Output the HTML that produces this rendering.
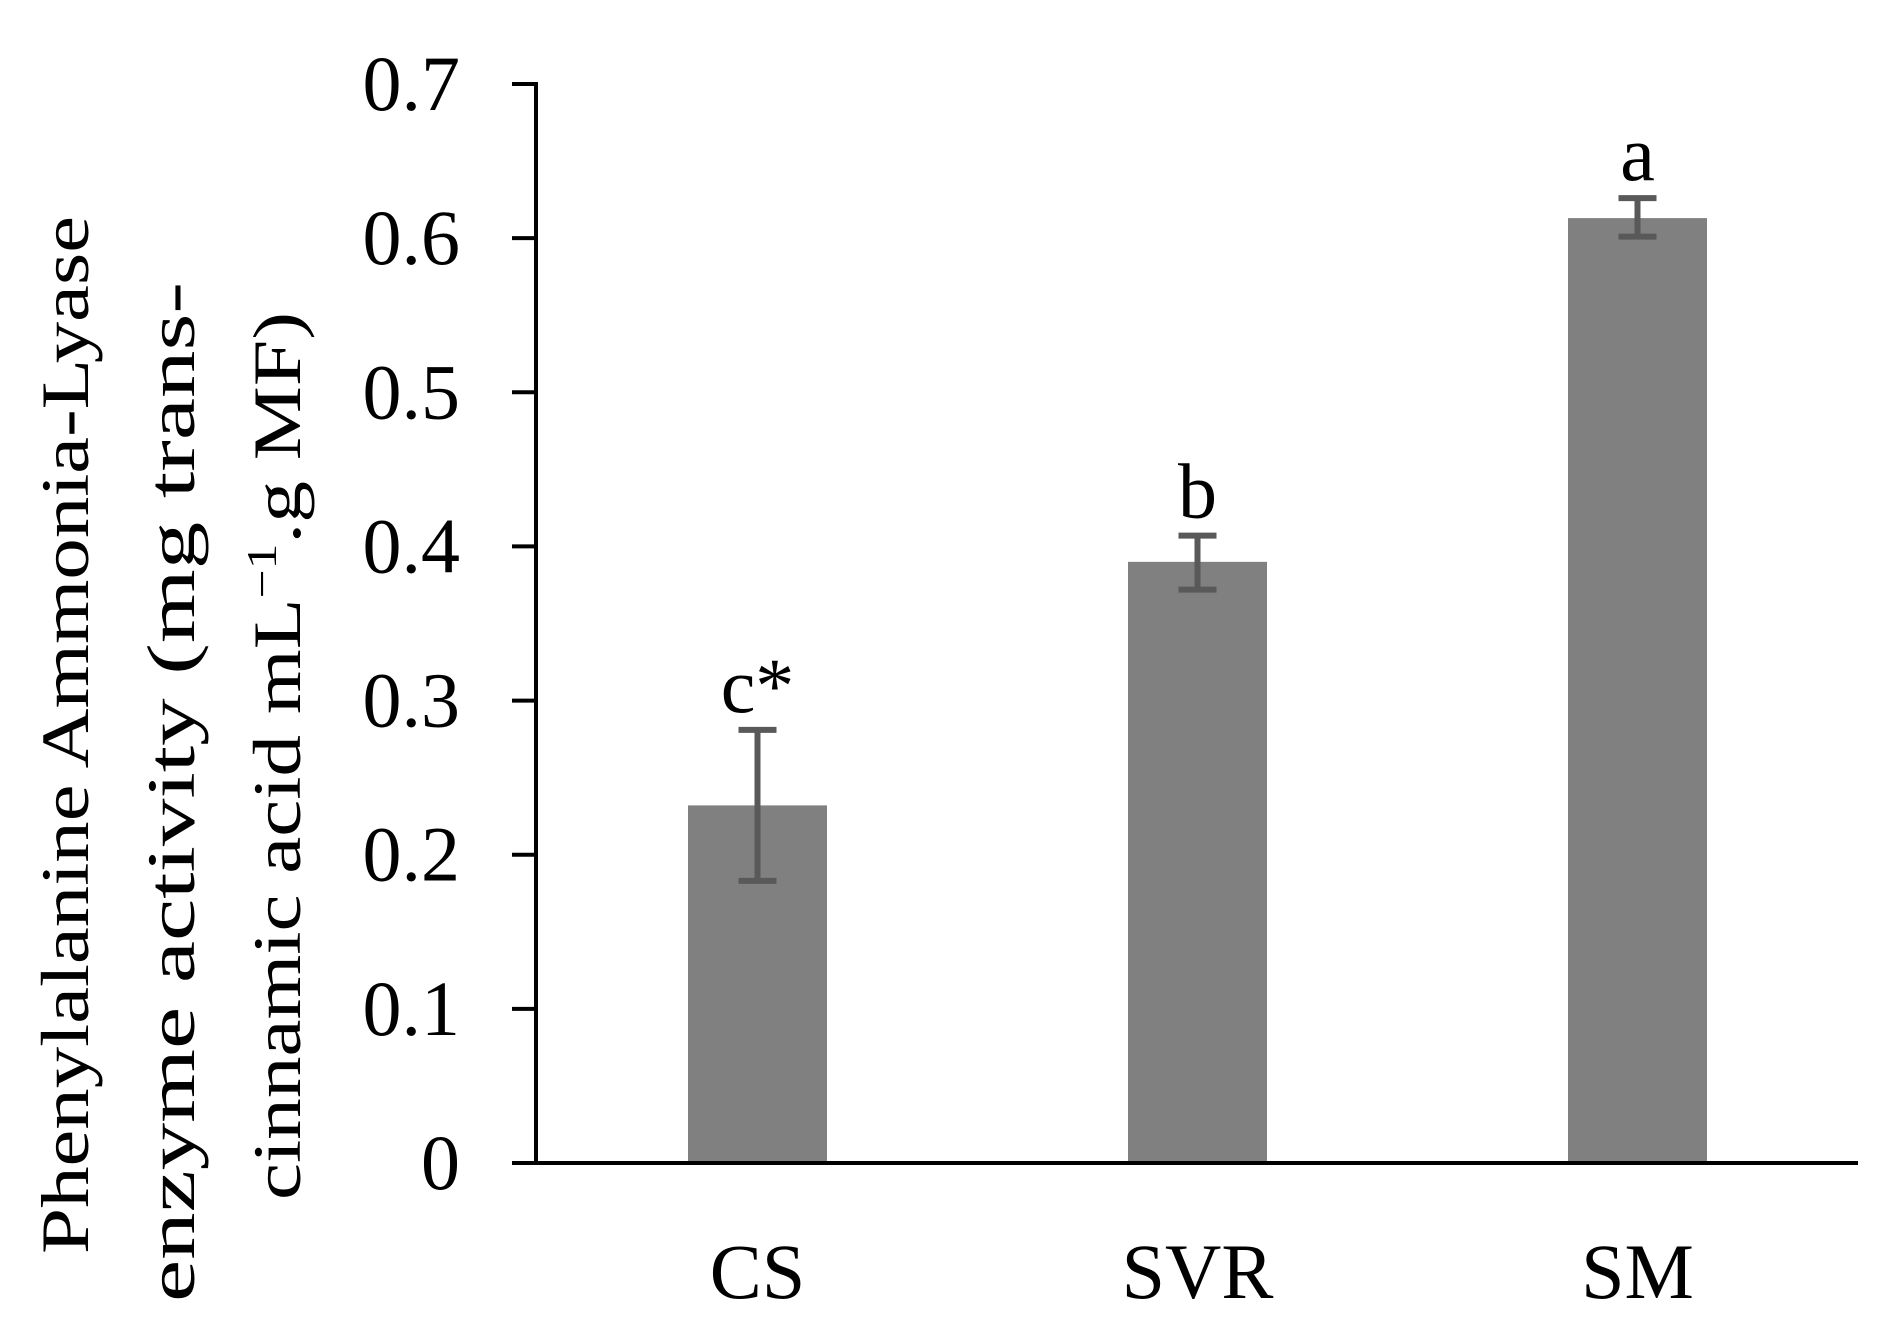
<!DOCTYPE html>
<html><head><meta charset="utf-8"><style>
html,body{margin:0;padding:0;background:#fff}
svg{display:block}
text{font-family:"Liberation Serif",serif;fill:#000}
</style></head><body>
<svg id="chart" width="1881" height="1331" viewBox="0 0 1881 1331" xmlns="http://www.w3.org/2000/svg">
<g id="yt">
<text transform="translate(88,735) rotate(-90)" text-anchor="middle" font-size="68" textLength="1038" lengthAdjust="spacingAndGlyphs">Phenylalanine Ammonia-Lyase</text>
<text transform="translate(194,792) rotate(-90)" text-anchor="middle" font-size="68" textLength="1020" lengthAdjust="spacingAndGlyphs">enzyme activity (mg trans-</text>
<text transform="translate(300,756) rotate(-90)" text-anchor="middle" font-size="68" textLength="888" lengthAdjust="spacingAndGlyphs">cinnamic acid mL<tspan font-size="42" dy="-24">−1</tspan><tspan dy="24">.g MF)</tspan></text>
</g>
<g id="plot"></g>
</svg>
<script>
const categories = ["CS", "SVR", "SM"];
const values = [0.232, 0.390, 0.613];
const errLow = [0.183, 0.372, 0.601];
const errHigh = [0.281, 0.407, 0.626];
const letters = ["c*", "b", "a"];
const yTicks = [0, 0.1, 0.2, 0.3, 0.4, 0.5, 0.6, 0.7];
const yTickLabels = ["0", "0.1", "0.2", "0.3", "0.4", "0.5", "0.6", "0.7"];

const NS = "http://www.w3.org/2000/svg";
const g = document.getElementById('plot');
const x0 = 536, x1 = 1858, yBase = 1163, yTop = 84, yMax = 0.7;
const y = v => yBase - (v / yMax) * (yBase - yTop);
const barW = 139;
const firstCenter = 757.5, step = 440;
const xc = i => firstCenter + i * step;
function mk(tag, attrs) { const e = document.createElementNS(NS, tag); for (const k in attrs) e.setAttribute(k, attrs[k]); g.appendChild(e); return e; }

values.forEach((v, i) => {
  const b = mk('rect', {x: xc(i) - barW / 2, y: y(v), width: barW, height: yBase - y(v), fill: '#808080'});
  
  
  const e = mk('path', {d: `M${xc(i)},${y(errLow[i])}V${y(errHigh[i])}M${xc(i)-19},${y(errHigh[i])}h38M${xc(i)-19},${y(errLow[i])}h38`, stroke: '#595959', 'stroke-width': 6, fill: 'none'});
  
  
  const l = mk('text', {x: xc(i), y: y(errHigh[i]) - 18, 'text-anchor': 'middle', 'font-size': 78});
  l.textContent = letters[i];
  
  
  const c = mk('text', {x: xc(i), y: 1298, 'text-anchor': 'middle', 'font-size': 78});
  c.textContent = categories[i];
  
  
});

yTicks.forEach((t, i) => {
  const tk = mk('line', {x1: 512, x2: x0, y1: y(t), y2: y(t), stroke: '#000', 'stroke-width': 4});
  
  
  const lb = mk('text', {x: 460, y: y(t) + 26, 'text-anchor': 'end', 'font-size': 78});
  lb.textContent = yTickLabels[i];
  
  
});

const ya = mk('line', {x1: x0, x2: x0, y1: yTop - 2, y2: yBase + 2, stroke: '#000', 'stroke-width': 4});


const xa = mk('line', {x1: 512, x2: x1, y1: yBase, y2: yBase, stroke: '#000', 'stroke-width': 4});


</script>
</body></html>
